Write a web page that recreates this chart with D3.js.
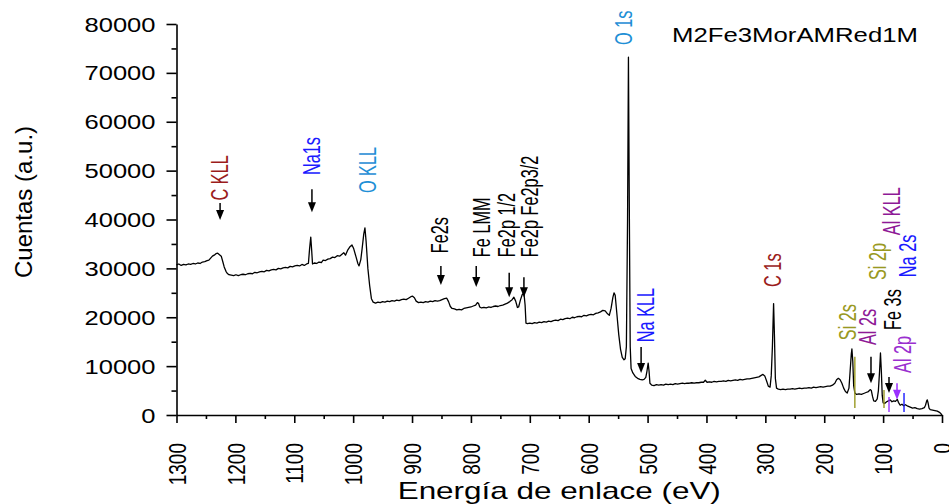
<!DOCTYPE html>
<html>
<head>
<meta charset="utf-8">
<script src="https://cdn.jsdelivr.net/npm/d3@7"></script>
<style>
  html, body { margin: 0; padding: 0; background: #fff; }
  svg { display: block; font-family: "Liberation Sans", Arial, sans-serif; }
</style>
</head>
<body>
<svg id="chart" width="949" height="504"></svg>
<script>
// XPS survey spectrum: binding energy (eV) and counts
const energy = [
  1300,1296,1292,1288,1284,1280,1276,1272,1268,1264,1260,1256,1252,1248,1245,1242,1239,1236,1233,1230,
  1227,1224,1221,1219,1216,1214,1211,1207,1203,1199,1195,1191,1187,1183,1179,1175,1171,1167,1163,1159,
  1155,1151,1147,1143,1139,1135,1131,1127,1123,1119,1115,1111,1107,1103,1099,1095,1091,1087,1083,1079,
  1076,1074,1072,1070.5,1069,1066,1062,1058,1054,1051,1047,1043,1039,1035,1031,1027,1023,1019,1016,1013,
  1009,1005,1002,999,995,992,990,987,985,982,980,978,975,972,969,966,962,958,954,950,
  946,942,938,934,930,926,922,918,914,910,906,902,899,896,893,889,885,881,877,873,
  869,865,861,857,853,849,845,841,838,835,832,828,824,820,816,812,808,804,800,796,
  792,789,787,785,782,778,774,770,766,762,758,754,750,746,742,738,734,730,727,724,
  721,719,716,713,710,708,706.5,704,700,696,692,688,684,680,676,672,668,664,660,656,
  652,648,644,640,636,632,628,624,620,616,612,608,604,600,596,592,588,584,580,576,
  572,568,565,562,559,557,555,552,549,546,543,540,538,536,534,532.5,531,529.5,528,525,
  521,517,513,509,506,503,501,499,497.5,496,493,489,485,481,477,473,469,465,461,457,
  453,449,445,441,437,433,429,425,421,417,413,409,405,402,399,395,391,387,383,379,
  375,371,367,363,359,355,351,347,343,339,335,331,327,323,319,315,311,307,304,301,
  298,295,292,290,288,286,284.5,283,281,278,274,270,266,262,258,254,250,246,242,238,
  234,230,226,222,218,214,210,206,202,198,194,190,186,182,179,176,173,170,167,164,
  161,158,156,154,153,151.5,150,148,145,141,137,133,129,125,122,120,118,116,113,110,
  108,106,104.5,103,101.5,100,97,94,91,88,85,82,79,76,74,71,68,65,62,58,
  54,50,46,42,38,34,30,28,26,25,23.5,22,20,16,12,8,5,2,0
];
const counts = [
  30700,30900,30600,30800,30700,30900,30800,31000,30900,31100,31000,31300,31400,31600,31700,32100,32500,32700,33000,33100,
  32800,32500,31200,30300,29400,29000,28700,28600,28500,28700,28500,28700,28800,28700,28900,29000,28900,29200,29100,29300,
  29400,29300,29600,29500,29700,29800,29700,30000,29900,30100,30200,30100,30400,30300,30500,30600,30500,30800,30600,30900,
  31000,34000,36400,33800,30900,31100,31000,31300,31200,31700,31600,31900,32000,32300,32200,32600,32500,32900,33200,32700,
  33800,34500,34800,34000,32300,31000,30500,31800,33800,37000,38300,35500,30000,26500,23800,23100,22900,23100,23000,23200,
  23100,23300,23200,23400,23300,23500,23400,23600,23700,23600,23900,24200,24300,24000,23300,23000,23100,23000,23200,23100,
  23300,23200,23400,23300,23400,23600,23800,23900,23200,22200,21800,21700,21500,21600,21500,21800,21900,22000,22100,22300,
  22500,23000,22800,22100,21900,22000,21900,22100,22000,22200,22300,22200,22400,22500,22700,22900,23200,23600,24100,23300,
  22000,22100,23500,24600,25000,22500,18800,18700,18800,18700,18900,18800,19000,18900,19100,19000,19200,19100,19300,19400,
  19300,19600,19500,19700,19800,19700,20000,19900,20100,20200,20100,20400,20300,20500,20600,20500,20800,20900,21100,21400,
  21300,20700,20400,21800,24000,25000,24500,20500,16500,13500,11800,11300,11500,14000,40000,73200,42000,14000,9500,8600,
  7900,7500,7300,7200,7300,7700,9000,10600,9000,6500,6100,6000,6200,6100,6200,6100,6300,6200,6300,6200,
  6400,6300,6400,6500,6400,6500,6500,6600,6500,6600,6600,6700,6700,7100,6700,6800,6700,6900,6800,6900,
  6900,7000,6900,7100,7000,7100,7200,7100,7300,7200,7300,7400,7400,7500,7600,7700,7800,8100,8300,8000,
  7000,5900,5700,8000,14000,22800,16000,7500,5500,5300,5200,5300,5200,5300,5300,5400,5300,5400,5500,5400,
  5500,5500,5600,5500,5700,5600,5700,5800,5700,5800,5900,5900,6100,6500,7200,7500,7200,6500,5500,4800,
  4500,5500,9000,12500,13500,11000,6000,4500,4200,4300,4200,4400,4600,4800,5200,5000,3800,2900,2800,3300,
  5000,9000,12700,9000,4000,2500,2400,2700,2900,3100,2700,2900,2800,3200,2600,2000,2200,1900,2100,1800,
  1600,1400,1500,1300,1200,1300,1500,2000,2900,3100,2400,1400,1100,1000,900,800,600,300,0
];

const xTicks = [1300,1200,1100,1000,900,800,700,600,500,400,300,200,100,0];
const yTicks = [0,10000,20000,30000,40000,50000,60000,70000,80000];
const xTitle = "Energía de enlace (eV)";
const yTitle = "Cuentas (a.u.)";
const sampleName = "M2Fe3MorAMRed1M";

// Peak assignments: label, energy of the label, count at the label's foot, element group
const peakNames    = ["C KLL","Na1s","O KLL","Fe2s","Fe LMM","Fe2p 1/2","Fe2p Fe2p3/2","O 1s","Na KLL","C 1s","Si 2s","Al 2s","Fe 3s","Al 2p","Si 2p","Al KLL","Na 2s"];
const peakEnergy   = [1226,1070,975,853,781,739,700,540,504,287,160,126,83,66,110,85,59];
const peakLabelAt  = [43900,49100,45400,33100,32300,32300,32300,75700,14900,26200,15300,14300,17400,8600,27600,36800,28200];
const peakGroup    = ["C","Na","O","Fe","Fe","Fe","Fe","O","Na","C","Si","Al","Fe","Al2p","Si","Al","Na"];

// Arrows pointing at features: energy, count at the tail, count at the tip, group
const arrowEnergy = [1226,1070,851,791,735,710,511,120.6,90,76.4];
const arrowFrom   = [43400,46200,30500,30500,29100,28200,13900,11900,7800,6500];
const arrowTo     = [39900,41500,26600,26200,24100,24100,8600,6500,4500,3100];
const arrowGroup  = ["Fe","Fe","Fe","Fe","Fe","Fe","Fe","Fe","Fe","violet"];

// Reference position markers in the low-energy region
const markEnergy = [148,98.5,90,64.5];
const markFrom   = [11900,5100,3700,4500];
const markTo     = [1430,1430,600,600];
const markGroup  = ["Si","Si","violet","Na"];

const palette = {
  C: "#9b1c1c", Na: "#1a1aff", O: "#1f8fd6", Fe: "#000000",
  Si: "#999922", Al: "#8e1a96", Al2p: "#9a2fcf", violet: "#9b30ff"
};

const svg = d3.select("#chart");
const x = d3.scaleLinear().domain([1300, 0]).range([176.5, 942]);
const y = d3.scaleLinear().domain([0, 80000]).range([415, 24]);

// Axes
const gx = svg.append("g").attr("transform", `translate(0,${y(0)})`)
  .call(d3.axisBottom(x).tickValues(xTicks).tickSize(8).tickSizeOuter(0).tickFormat(d3.format("d")));
gx.select(".domain").attr("stroke-width", 1.6);
gx.selectAll(".tick line").attr("stroke-width", 1.6);
gx.selectAll(".tick text")
  .attr("x", 0).attr("y", 0).attr("dy", "0.36em")
  .attr("text-anchor", "end")
  .attr("font-size", 19)
  .attr("fill", "#000")
  .attr("transform", "translate(0,28) rotate(-90) scale(1,1.26)");

const gxMinor = svg.append("g").attr("transform", `translate(0,${y(0)})`)
  .call(d3.axisBottom(x).tickValues(d3.range(50, 1300, 100)).tickSize(4).tickFormat(""));
gxMinor.select(".domain").remove();
gxMinor.selectAll(".tick line").attr("stroke-width", 1.6);

const gy = svg.append("g").attr("transform", `translate(${x(1300)},0)`)
  .call(d3.axisLeft(y).tickValues(yTicks).tickSize(10).tickSizeOuter(0).tickFormat(d3.format("d")));
gy.select(".domain").attr("stroke-width", 1.6);
gy.selectAll(".tick line").attr("stroke-width", 1.6);
gy.selectAll(".tick text")
  .attr("x", 0).attr("dy", "0.36em")
  .attr("text-anchor", "end")
  .attr("font-size", 19.5)
  .attr("fill", "#000")
  .attr("transform", "translate(-21,0) scale(1.31,1)");

const gyMinor = svg.append("g").attr("transform", `translate(${x(1300)},0)`)
  .call(d3.axisLeft(y).tickValues(d3.range(5000, 80000, 10000)).tickSize(5).tickFormat(""));
gyMinor.select(".domain").remove();
gyMinor.selectAll(".tick line").attr("stroke-width", 1.6);

// Axis titles
svg.append("text")
  .attr("transform", `translate(${(x(1300) + x(0)) / 2},499) scale(1.31,1)`)
  .attr("text-anchor", "middle").attr("font-size", 24).attr("fill", "#000")
  .text(xTitle);
svg.append("text")
  .attr("transform", "translate(32,202) rotate(-90)")
  .attr("text-anchor", "middle").attr("font-size", 24).attr("fill", "#000")
  .text(yTitle);

// Spectrum
const spectrum = energy.map((e, i) => [e, counts[i]]);
svg.append("path")
  .datum(spectrum)
  .attr("fill", "none")
  .attr("stroke", "#000")
  .attr("stroke-width", 1.3)
  .attr("stroke-linejoin", "round")
  .attr("d", d3.line().x(d => x(d[0])).y(d => y(d[1])));

// Reference markers
svg.append("g").selectAll("line")
  .data(markEnergy.map((e, i) => ({e, a: markFrom[i], b: markTo[i], g: markGroup[i]})))
  .join("line")
  .attr("x1", d => x(d.e)).attr("x2", d => x(d.e))
  .attr("y1", d => y(d.a)).attr("y2", d => y(d.b))
  .attr("stroke", d => palette[d.g]).attr("stroke-width", 1.4);

// Arrows
const arrows = svg.append("g").selectAll("g")
  .data(arrowEnergy.map((e, i) => ({e, a: arrowFrom[i], b: arrowTo[i], g: arrowGroup[i]})))
  .join("g");
arrows.append("line")
  .attr("x1", d => x(d.e)).attr("x2", d => x(d.e))
  .attr("y1", d => y(d.a)).attr("y2", d => y(d.b) - 8)
  .attr("stroke", d => palette[d.g]).attr("stroke-width", 1.5);
arrows.append("path")
  .attr("d", d => {
    const px = x(d.e), py = y(d.b);
    return `M${px - 4},${py - 10}L${px + 4},${py - 10}L${px},${py}Z`;
  })
  .attr("fill", d => palette[d.g]);

// Peak labels
svg.append("g").selectAll("text")
  .data(peakNames.map((t, i) => ({t, e: peakEnergy[i], c: peakLabelAt[i], g: peakGroup[i]})))
  .join("text")
  .attr("transform", d => `translate(${x(d.e)},${y(d.c)}) rotate(-90) scale(1,1.42)`)
  .attr("dy", "0.36em")
  .attr("text-anchor", "start")
  .attr("font-size", 16.3)
  .attr("fill", d => palette[d.g])
  .text(d => d.t);

// Sample name
svg.append("text")
  .attr("transform", "translate(672,42) scale(1.32,1)")
  .attr("font-size", 19.5).attr("fill", "#000")
  .text(sampleName);
</script>
</body>
</html>
